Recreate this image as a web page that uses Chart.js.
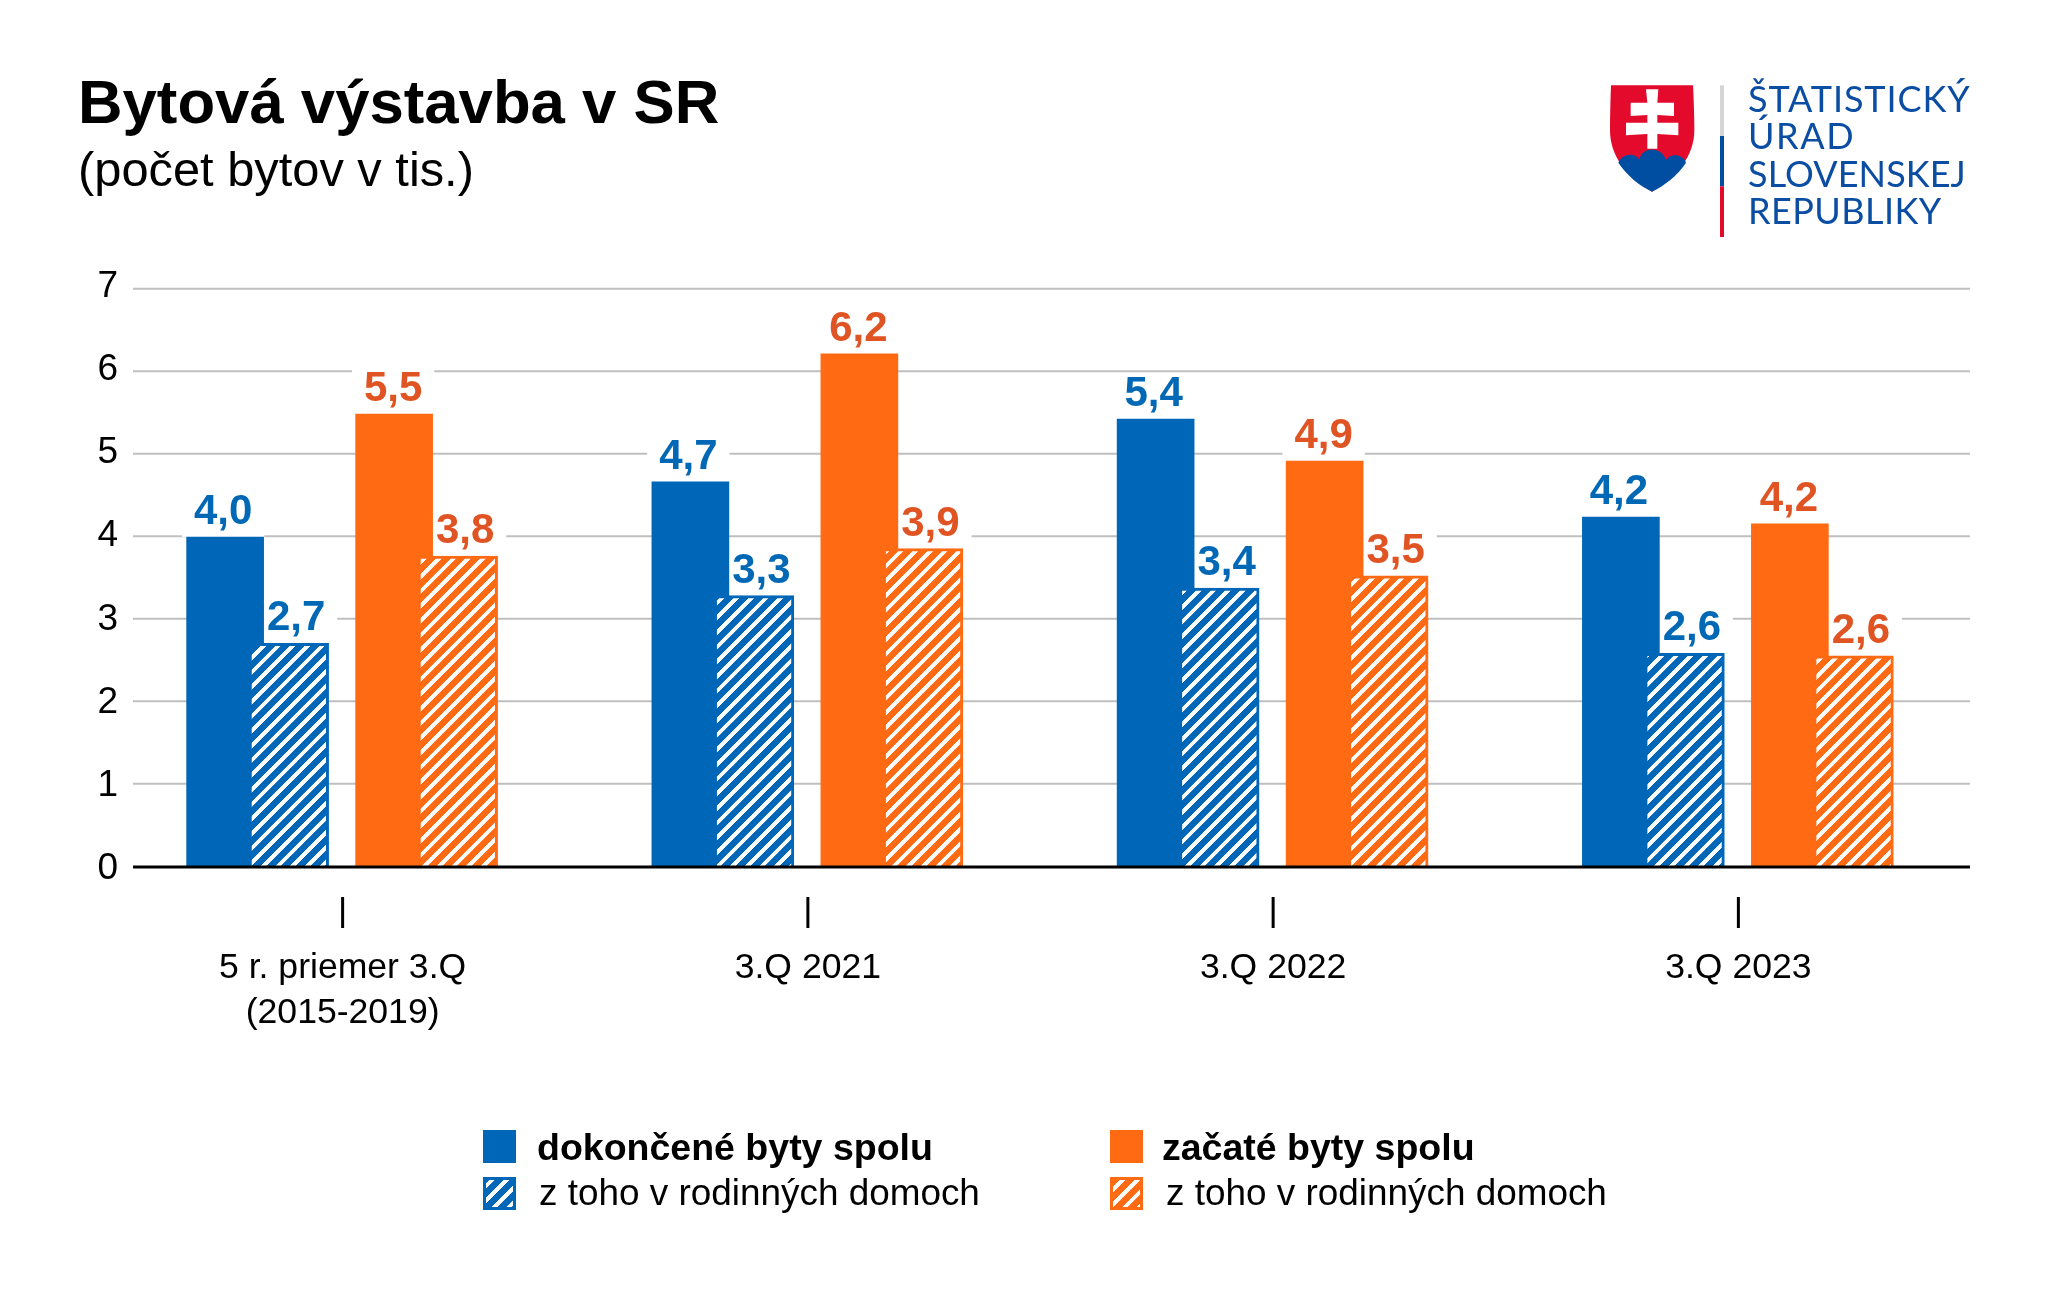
<!DOCTYPE html>
<html lang="sk">
<head>
<meta charset="utf-8">
<title>Bytová výstavba v SR</title>
<script src="https://cdn.jsdelivr.net/npm/chart.js@4"></script>
<style>
  html, body { margin: 0; background: #fff; }
  #page { position: relative; width: 2048px; height: 1303px; overflow: hidden; font-family: "Liberation Sans", Arial, sans-serif; color: #000; }
  canvas { position: absolute; left: 0; top: 0; }
  .title { position: absolute; left: 78px; top: 66px; font-size: 61.7px; font-weight: bold; line-height: 72px; white-space: nowrap; }
  .subtitle { position: absolute; left: 78px; top: 142px; font-size: 48.8px; line-height: 54px; white-space: nowrap; }
  svg { position: absolute; left: 1580px; top: 60px; }
  .org { position: absolute; left: 1748px; font-family: Lato, sans-serif; font-size: 36px; line-height: 38px; color: #0a4da2; white-space: nowrap; }
</style>
</head>
<body>
<div id="page">
  <canvas id="chart" width="2048" height="1303"></canvas>
  <div class="title">Bytová výstavba v SR</div>
  <div class="subtitle">(počet bytov v tis.)</div>
  <svg width="420" height="190" viewBox="0 0 1260 570">
    <path d="M93 76H339C339 76 343 150 343 210C343 290 290 350 216 395C140 350 90 290 90 210C90 150 93 76 93 76Z" fill="#e30a2c"/>
    <path d="M115 308C125 282 165 275 178 300C185 258 245 258 258 300C270 278 310 282 318 308C290 350 255 375 216 395C175 375 140 345 115 308Z" fill="#004ea2"/>
    <path d="M198 88H235L232 128H282V168L232 165V188H295V226L232 222V266L202 266V222L138 226V188H202V165L152 168V128H202Z" fill="#fff"/>
    <rect x="420" y="76" width="12" height="152" fill="#d3d5d6"/>
    <rect x="420" y="228" width="12" height="151" fill="#004ea2"/>
    <rect x="420" y="379" width="12" height="152" fill="#e30a2c"/>
  </svg>
  <div class="org" style="top:79px;letter-spacing:0.9px">ŠTATISTICKÝ</div>
  <div class="org" style="top:116px;letter-spacing:1.6px">ÚRAD</div>
  <div class="org" style="top:154px;letter-spacing:0.1px">SLOVENSKEJ</div>
  <div class="org" style="top:191px;letter-spacing:0.45px">REPUBLIKY</div>
</div>
<script>
const categories = [['5 r. priemer 3.Q', '(2015-2019)'], '3.Q 2021', '3.Q 2022', '3.Q 2023'];
const dokoncene = [4.0, 4.67, 5.43, 4.24];
const dokonceneRD = [2.71, 3.29, 3.38, 2.59];
const zacate = [5.49, 6.22, 4.92, 4.16];
const zacateRD = [3.77, 3.86, 3.53, 2.56];
const yTicks = [0, 1, 2, 3, 4, 5, 6, 7];

const BLUE = '#0066b8', ORANGE = '#ff6a13';
const FONT = '"Liberation Sans", Arial, sans-serif';

// sikme pruhy, perioda cca 14.7 px
function hatch(color) {
  const t = document.createElement('canvas');
  t.width = t.height = 44;
  const c = t.getContext('2d');
  c.fillStyle = color;
  c.fillRect(0, 0, 44, 44);
  c.strokeStyle = '#fff';
  c.lineWidth = 12;
  [[-44, 44, 44, -44], [-44, 88, 88, -44], [0, 88, 88, 0]].forEach((l) => {
    c.beginPath(); c.moveTo(l[0], l[1]); c.lineTo(l[2], l[3]); c.stroke();
  });
  const p = c.createPattern(t, 'repeat');
  p.setTransform(new DOMMatrix().scale(1 / 3));
  return p;
}

// posun stlpcov od stredu kategorie (nerovnomerne medzery)
const barShift = [-117.5, -52.5, 51.5, 116.5];
const labelShift = [-2, 6, -1, 6];
const labelColor = ['#0068b5', '#0068b5', '#e05423', '#e05423'];

const layoutPlugin = {
  id: 'layoutBars',
  afterDatasetsUpdate(chart) {
    chart.data.datasets.forEach((d, i) => {
      chart.getDatasetMeta(i).data.forEach((bar) => { bar.x += barShift[i]; });
    });
  },
  beforeDatasetsDraw(chart) {
    const { ctx, scales: { y } } = chart;
    ctx.save();
    // mriezka a popisky osi y
    ctx.font = '37px ' + FONT;
    ctx.textAlign = 'right';
    ctx.textBaseline = 'middle';
    yTicks.forEach((v) => {
      const py = y.getPixelForValue(v);
      ctx.fillStyle = '#000';
      ctx.fillText(String(v), 118, py + 2 - v * 0.7);
      if (v === 0) return;
      ctx.strokeStyle = '#bfbfbf';
      ctx.lineWidth = 2;
      ctx.beginPath(); ctx.moveTo(133, py - 0.7); ctx.lineTo(1970, py - 0.7); ctx.stroke();
    });
    // biele pozadie popisiek
    ctx.font = 'bold 42px ' + FONT;
    ctx.fillStyle = '#fff';
    chart.data.datasets.forEach((d, i) => {
      chart.getDatasetMeta(i).data.forEach((bar, j) => {
        const txt = d.data[j].toFixed(1).replace('.', ',');
        const w = ctx.measureText(txt).width;
        ctx.fillRect(bar.x + labelShift[i] - w / 2 - 12, bar.y - 46, w + 24, 46);
      });
    });
    ctx.restore();
  },
  afterDatasetsDraw(chart) {
    const { ctx, scales: { x, y } } = chart;
    ctx.save();
    // os x a ciarky
    ctx.strokeStyle = '#000';
    ctx.lineWidth = 3;
    const y0 = y.getPixelForValue(0);
    ctx.beginPath(); ctx.moveTo(133, y0); ctx.lineTo(1970, y0); ctx.stroke();
    categories.forEach((c, i) => {
      const px = x.getPixelForTick(i);
      ctx.beginPath(); ctx.moveTo(px, y0 + 30); ctx.lineTo(px, y0 + 61); ctx.stroke();
    });
    // hodnoty
    ctx.font = 'bold 42px ' + FONT;
    ctx.textAlign = 'center';
    ctx.textBaseline = 'alphabetic';
    chart.data.datasets.forEach((d, i) => {
      ctx.fillStyle = labelColor[i];
      chart.getDatasetMeta(i).data.forEach((bar, j) => {
        ctx.fillText(d.data[j].toFixed(1).replace('.', ','), bar.x + labelShift[i], bar.y - 13);
      });
    });
    // legenda
    const ds = chart.data.datasets;
    [[0, 483, 537, 1130, 1160, 'bold 37.5px '], [1, 483, 539, 1177, 1205, '36.9px '], [2, 1110, 1162, 1130, 1160, 'bold 37.5px '], [3, 1110, 1166, 1177, 1205, '36.9px ']].forEach((l) => {
      ctx.fillStyle = ds[l[0]].borderColor;
      ctx.fillRect(l[1], l[3], 33, 33);
      ctx.fillStyle = ds[l[0]].backgroundColor;
      ctx.fillRect(l[1] + 3, l[3] + 3, 27, 27);
      ctx.fillStyle = '#000';
      ctx.textAlign = 'left';
      ctx.font = l[5] + FONT;
      ctx.fillText(ds[l[0]].label, l[2], l[4]);
    });
    ctx.restore();
  },
};

function bars(label, data, bg, border, order, borderWidth) {
  return { label, data, backgroundColor: bg, borderColor: border, borderWidth, borderSkipped: false, order };
}

const HATCH_BORDER = { top: 3, right: 3, left: 0, bottom: 0 };

new Chart(document.getElementById('chart'), {
  type: 'bar',
  plugins: [layoutPlugin],
  data: {
    labels: categories,
    datasets: [
      bars('dokončené byty spolu', dokoncene, BLUE, BLUE, 2, 0),
      bars('z toho v rodinných domoch', dokonceneRD, hatch(BLUE), BLUE, 1, HATCH_BORDER),
      bars('začaté byty spolu', zacate, ORANGE, ORANGE, 2, 0),
      bars('z toho v rodinných domoch', zacateRD, hatch(ORANGE), ORANGE, 1, HATCH_BORDER),
    ],
  },
  options: {
    responsive: false,
    animation: false,
    layout: { padding: { left: 110, right: 77, top: 289.5, bottom: 0 } },
    plugins: { legend: { display: false }, tooltip: { enabled: false } },
    datasets: { bar: { grouped: false, barThickness: 77 } },
    scales: {
      x: {
        afterFit(s) { s.height = 436; },
        grid: { display: false, offset: false },
        border: { display: false },
        ticks: { color: '#000', font: { family: FONT, size: 35.6, lineHeight: 1.26 }, padding: 71, maxRotation: 0, autoSkip: false },
      },
      y: {
        min: 0, max: 7,
        afterFit(s) { s.width = 0; },
        afterBuildTicks(s) { s.ticks = yTicks.map((value) => ({ value })); },
        grid: { display: false },
        border: { display: false },
        ticks: { display: false },
      },
    },
  },
});
</script>
</body>
</html>
